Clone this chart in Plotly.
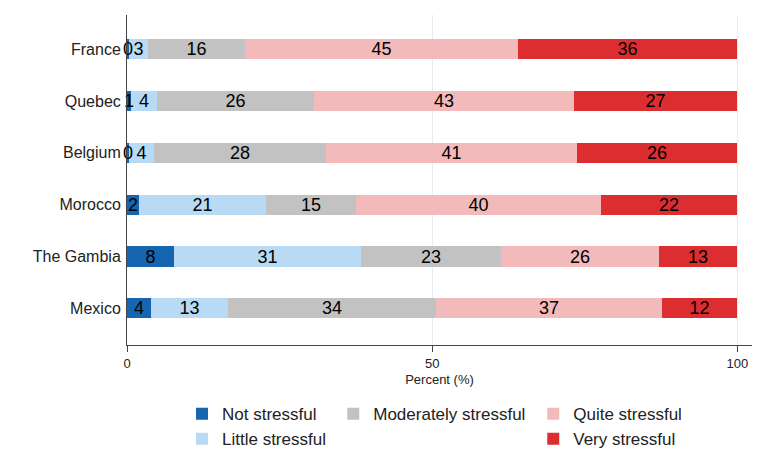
import plotly.graph_objects as go

countries = ["France", "Quebec", "Belgium", "Morocco", "The Gambia", "Mexico"]

not_stressful = [0.4, 0.7, 0.4, 2.0, 7.7, 3.9]
little_stressful = [3.1, 4.2, 4.0, 20.8, 30.6, 12.7]
moderately_stressful = [15.9, 25.8, 28.2, 14.8, 22.9, 34.0]
quite_stressful = [44.6, 42.6, 41.2, 40.1, 26.0, 37.1]
very_stressful = [36.0, 26.7, 26.2, 22.3, 12.8, 12.3]

series = [
    ("Not stressful", not_stressful, "#1565b0", "legend"),
    ("Little stressful", little_stressful, "#b8daf5", "legend"),
    ("Moderately stressful", moderately_stressful, "#c2c2c2", "legend2"),
    ("Quite stressful", quite_stressful, "#f2babb", "legend3"),
    ("Very stressful", very_stressful, "#dc2d30", "legend3"),
]

FONT = "Liberation Sans, Arial, sans-serif"

# stack by hand so the left-most segments are drawn last (their labels stay on top)
bases = []
running = [0.0] * len(countries)
for _, vals, _, _ in series:
    bases.append(list(running))
    running = [r + v for r, v in zip(running, vals)]

fig = go.Figure()
for rank in reversed(range(len(series))):
    name, vals, color, leg = series[rank]
    fig.add_trace(go.Bar(
        y=countries, x=vals, base=bases[rank], name=name, orientation="h",
        marker=dict(color=color, line=dict(width=0)),
        text=[f"{v:.0f}" for v in vals],
        textposition="inside", insidetextanchor="middle",
        textangle=0, constraintext="none", cliponaxis=False,
        textfont=dict(family=FONT, size=18, color="black"),
        width=0.39, legend=leg, legendrank=rank + 1,
    ))

leg_common = dict(
    orientation="v", yanchor="top", xanchor="left", traceorder="normal",
    font=dict(family=FONT, size=17, color="#222"),
    bgcolor="rgba(0,0,0,0)", tracegroupgap=0,
)

# page body adds ~8px offset, so margins are shifted to compensate
fig.update_layout(
    barmode="overlay",
    width=768, height=474,
    margin=dict(l=119, r=24, t=7, b=137),
    paper_bgcolor="white", plot_bgcolor="white",
    font=dict(family=FONT, size=13, color="#222"),
    bargap=0,
    uniformtext=dict(mode="show", minsize=18),
    legend=dict(x=0.088, y=-0.155, **leg_common),
    legend2=dict(x=0.33, y=-0.155, **leg_common),
    legend3=dict(x=0.65, y=-0.155, **leg_common),
)

fig.update_xaxes(
    range=[0, 102.4], tickvals=[0, 50, 100],
    showgrid=True, gridcolor="#e4ecf0", gridwidth=1,
    showline=True, linecolor="#444", linewidth=1,
    ticks="outside", ticklen=6, tickcolor="#444",
    tickfont=dict(size=13, color="#222"),
    title=dict(text="Percent (%)", font=dict(size=13, color="#222"), standoff=5),
    zeroline=False, automargin=False,
)
fig.update_yaxes(
    categoryorder="array", categoryarray=countries[::-1],
    range=[-0.71, 5.66],
    showline=True, linecolor="#444", linewidth=1,
    ticks="", ticklabelstandoff=2,
    tickfont=dict(size=16, color="#222"),
    showgrid=False, automargin=False,
)

fig.write_html("out.html")
